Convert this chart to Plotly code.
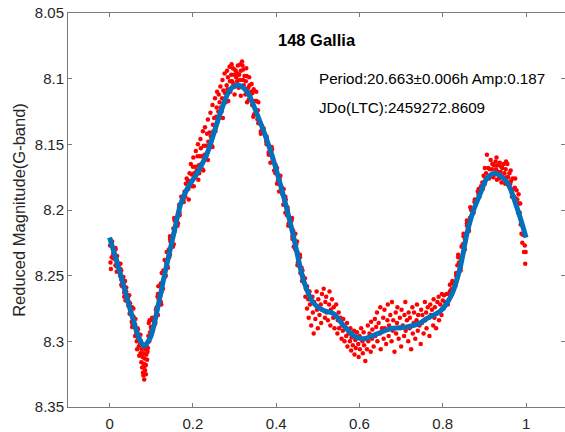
import plotly.graph_objects as go

# ---- fitted light curve ----
fit_phase = [0.000, 0.026, 0.050, 0.070, 0.082, 0.098, 0.114, 0.134, 0.154, 0.170,
             0.186, 0.210, 0.234, 0.266, 0.290, 0.310, 0.330, 0.354, 0.386, 0.418,
             0.440, 0.466, 0.490, 0.514, 0.538, 0.562, 0.586, 0.610, 0.642, 0.674,
             0.714, 0.746, 0.762, 0.794, 0.822, 0.842, 0.858, 0.874, 0.890, 0.906,
             0.926, 0.954, 0.978, 1.000]
fit_mag = [8.221, 8.249, 8.2765, 8.297, 8.3035, 8.297, 8.2765, 8.246, 8.218, 8.196,
           8.184, 8.172, 8.157, 8.126, 8.108, 8.105, 8.110, 8.127, 8.1545, 8.190,
           8.218, 8.254, 8.271, 8.2765, 8.279, 8.288, 8.2956, 8.298, 8.2943, 8.2905,
           8.289, 8.286, 8.2825, 8.277, 8.264, 8.2435, 8.218, 8.200, 8.1875, 8.176,
           8.172, 8.1787, 8.198, 8.221]

obs = [
 # descending branch 0.00-0.07
 (0.006,8.224),(0.001,8.227),(0.014,8.229),(0.010,8.231),(0.009,8.233),(0.018,8.235),(0.009,8.237),(0.018,8.239),(0.026,8.241),(0.017,8.243),(0.026,8.245),(0.017,8.247),(0.026,8.249),(0.033,8.251),(0.028,8.253),(0.034,8.255),(0.028,8.257),(0.040,8.259),(0.036,8.261),(0.035,8.263),(0.047,8.265),(0.044,8.267),(0.038,8.269),(0.049,8.271),(0.045,8.273),(0.057,8.275),(0.051,8.277),(0.048,8.279),(0.057,8.281),(0.062,8.283),(0.053,8.285),(0.061,8.287),(0.054,8.289),(0.068,8.291),(0.064,8.293),(0.074,8.295),
 (0.003,8.226),(0.014,8.230),(0.009,8.234),(0.017,8.238),(0.014,8.242),(0.028,8.246),(0.025,8.250),(0.037,8.254),(0.030,8.258),(0.040,8.262),(0.035,8.266),(0.046,8.270),(0.054,8.274),(0.049,8.278),(0.057,8.282),(0.054,8.286),(0.067,8.290),(0.065,8.294),
 (0.002,8.240),(0.003,8.245),(0.005,8.236),
 # minimum 0.06-0.10
 (0.061,8.296),(0.063,8.291),(0.065,8.300),(0.066,8.306),(0.068,8.297),(0.070,8.304),(0.071,8.311),(0.073,8.302),(0.074,8.309),(0.076,8.316),(0.077,8.306),(0.078,8.320),(0.079,8.312),(0.080,8.324),(0.081,8.309),(0.082,8.317),(0.083,8.329),(0.084,8.313),(0.085,8.322),(0.086,8.306),(0.087,8.318),(0.088,8.310),(0.089,8.302),(0.090,8.314),(0.092,8.305),(0.093,8.296),(0.094,8.286),(0.095,8.300),(0.097,8.293),(0.099,8.289),
 (0.075,8.300),(0.081,8.326),(0.084,8.319),(0.087,8.325),(0.091,8.308),(0.096,8.284),
 # rising branch 0.10-0.18
 (0.100,8.290),(0.110,8.286),(0.102,8.282),(0.113,8.278),(0.113,8.274),(0.123,8.270),(0.115,8.266),(0.125,8.262),(0.117,8.258),(0.128,8.254),(0.135,8.250),(0.129,8.246),(0.138,8.242),(0.132,8.238),(0.145,8.234),(0.142,8.230),(0.154,8.226),(0.145,8.222),(0.154,8.218),(0.153,8.214),(0.164,8.210),(0.155,8.206),(0.168,8.202),(0.167,8.198),(0.178,8.194),(0.172,8.190),
 (0.107,8.288),(0.103,8.284),(0.116,8.280),(0.111,8.276),(0.124,8.272),(0.118,8.268),(0.116,8.264),(0.128,8.260),(0.123,8.256),(0.131,8.252),(0.125,8.248),(0.140,8.244),(0.136,8.240),(0.143,8.236),(0.137,8.232),(0.152,8.228),(0.146,8.224),(0.145,8.220),(0.157,8.216),(0.163,8.212),(0.156,8.208),(0.168,8.204),(0.167,8.200),(0.167,8.196),(0.177,8.192),
 # 0.18-0.26
 (0.180,8.186),(0.182,8.190),(0.183,8.180),(0.186,8.184),(0.188,8.178),(0.189,8.184),(0.192,8.172),(0.194,8.178),(0.197,8.173),(0.198,8.182),(0.200,8.167),(0.203,8.172),(0.205,8.175),(0.206,8.167),(0.209,8.170),(0.211,8.159),(0.214,8.166),(0.215,8.172),(0.217,8.159),(0.220,8.165),(0.222,8.159),(0.223,8.169),(0.226,8.151),(0.228,8.158),(0.231,8.151),(0.232,8.159),(0.234,8.142),(0.237,8.148),(0.239,8.151),(0.240,8.141),(0.243,8.144),(0.245,8.151),(0.248,8.135),(0.249,8.140),(0.251,8.130),(0.254,8.140),(0.256,8.129),(0.257,8.122),(0.259,8.133),
 (0.195,8.165),(0.201,8.160),(0.207,8.155),(0.212,8.150),(0.218,8.146),(0.224,8.140),(0.229,8.137),(0.236,8.131),(0.242,8.126),(0.247,8.120),(0.253,8.115),(0.258,8.110),(0.190,8.192),(0.202,8.182),(0.213,8.177),(0.225,8.170),(0.236,8.162),(0.247,8.152),(0.185,8.176),(0.219,8.153),
 # peak 0.26-0.36
 (0.261,8.125),(0.263,8.130),(0.264,8.118),(0.267,8.122),(0.269,8.125),(0.270,8.115),(0.273,8.109),(0.275,8.116),(0.277,8.111),(0.279,8.118),(0.281,8.105),(0.283,8.108),(0.284,8.099),(0.287,8.109),(0.289,8.102),(0.290,8.110),(0.292,8.097),(0.294,8.102),(0.296,8.092),(0.297,8.104),(0.299,8.097),(0.301,8.106),(0.303,8.094),(0.304,8.099),(0.306,8.102),(0.308,8.090),(0.310,8.107),(0.311,8.097),(0.313,8.101),(0.315,8.094),(0.317,8.106),(0.318,8.087),(0.319,8.090),(0.320,8.101),(0.322,8.105),(0.324,8.098),(0.326,8.112),(0.327,8.102),(0.329,8.098),(0.331,8.110),(0.333,8.107),(0.334,8.116),(0.336,8.105),(0.338,8.113),(0.340,8.110),(0.342,8.120),(0.343,8.111),(0.345,8.117),(0.347,8.127),(0.349,8.117),(0.351,8.124),(0.353,8.117),(0.355,8.131),(0.356,8.124),(0.358,8.131),
 (0.262,8.112),(0.266,8.106),(0.271,8.101),(0.276,8.096),(0.282,8.094),(0.288,8.091),(0.293,8.089),(0.300,8.093),(0.307,8.096),(0.314,8.089),(0.321,8.093),(0.328,8.092),(0.335,8.099),(0.341,8.104),(0.346,8.108),(0.352,8.110),(0.357,8.118),
 (0.285,8.117),(0.300,8.112),(0.315,8.113),(0.330,8.118),(0.345,8.129),(0.272,8.130),
 # descending 0.36-0.47
 (0.357,8.134),(0.370,8.138),(0.363,8.142),(0.377,8.146),(0.377,8.150),(0.390,8.154),(0.382,8.158),(0.392,8.162),(0.399,8.166),(0.395,8.170),(0.410,8.174),(0.404,8.178),(0.412,8.182),(0.407,8.186),(0.422,8.190),(0.420,8.194),(0.427,8.198),(0.422,8.202),(0.438,8.206),(0.430,8.210),(0.438,8.214),(0.446,8.218),(0.439,8.222),(0.448,8.226),(0.446,8.230),(0.457,8.234),(0.453,8.238),(0.451,8.242),(0.463,8.246),(0.464,8.250),(0.462,8.254),(0.474,8.258),
 (0.366,8.136),(0.363,8.140),(0.377,8.144),(0.376,8.148),(0.389,8.152),(0.382,8.156),(0.391,8.160),(0.386,8.164),(0.402,8.168),(0.398,8.172),(0.408,8.176),(0.402,8.180),(0.418,8.184),(0.415,8.188),(0.423,8.192),(0.417,8.196),(0.428,8.200),(0.426,8.204),(0.437,8.208),(0.429,8.212),(0.441,8.216),(0.439,8.220),(0.450,8.224),(0.442,8.228),(0.451,8.232),(0.457,8.236),(0.452,8.240),(0.461,8.244),(0.458,8.248),(0.469,8.252),(0.468,8.256),
 # shoulder 0.47-0.56
 (0.470,8.266),(0.471,8.260),(0.474,8.275),(0.477,8.268),(0.478,8.282),(0.480,8.262),(0.481,8.272),(0.484,8.288),(0.487,8.266),(0.488,8.278),(0.490,8.294),(0.491,8.270),(0.494,8.283),(0.497,8.262),(0.498,8.276),(0.500,8.290),(0.501,8.268),(0.504,8.280),(0.507,8.272),(0.508,8.286),(0.510,8.264),(0.511,8.276),(0.514,8.260),(0.517,8.282),(0.518,8.270),(0.520,8.266),(0.521,8.278),(0.524,8.284),(0.527,8.272),(0.528,8.262),(0.530,8.288),(0.531,8.276),(0.534,8.268),(0.537,8.282),(0.538,8.274),(0.540,8.290),(0.541,8.280),(0.544,8.272),(0.547,8.294),(0.548,8.284),(0.550,8.278),(0.551,8.290),(0.554,8.282),(0.557,8.298),(0.558,8.288),
 # trough 0.56-0.64
 (0.560,8.292),(0.561,8.283),(0.564,8.300),(0.567,8.290),(0.568,8.296),(0.570,8.286),(0.571,8.304),(0.574,8.294),(0.577,8.300),(0.578,8.290),(0.580,8.307),(0.581,8.297),(0.584,8.303),(0.587,8.292),(0.588,8.310),(0.590,8.299),(0.591,8.305),(0.594,8.293),(0.597,8.302),(0.598,8.312),(0.600,8.296),(0.601,8.306),(0.604,8.290),(0.607,8.300),(0.608,8.309),(0.610,8.293),(0.611,8.303),(0.614,8.315),(0.617,8.298),(0.618,8.306),(0.620,8.288),(0.621,8.300),(0.624,8.294),(0.627,8.308),(0.628,8.285),(0.630,8.298),(0.631,8.291),(0.634,8.304),(0.637,8.283),(0.638,8.296),(0.640,8.289),
 # flat 0.64-0.80
 (0.642,8.278),(0.643,8.300),(0.646,8.286),(0.649,8.294),(0.650,8.274),(0.651,8.306),(0.654,8.290),(0.657,8.282),(0.658,8.298),(0.660,8.276),(0.661,8.290),(0.664,8.302),(0.667,8.284),(0.668,8.272),(0.670,8.296),(0.671,8.288),(0.674,8.280),(0.677,8.300),(0.678,8.270),(0.680,8.292),(0.681,8.284),(0.684,8.308),(0.687,8.278),(0.688,8.294),(0.690,8.286),(0.691,8.274),(0.694,8.298),(0.697,8.282),(0.698,8.290),(0.700,8.304),(0.701,8.276),(0.704,8.288),(0.707,8.296),(0.708,8.280),(0.710,8.270),(0.711,8.292),(0.714,8.284),(0.717,8.300),(0.718,8.278),(0.720,8.290),(0.721,8.282),(0.724,8.306),(0.727,8.274),(0.728,8.294),(0.730,8.286),(0.731,8.278),(0.734,8.298),(0.737,8.284),(0.738,8.272),(0.740,8.292),(0.741,8.280),(0.744,8.288),(0.747,8.302),(0.748,8.276),(0.750,8.286),(0.751,8.280),(0.754,8.294),(0.757,8.270),(0.758,8.284),(0.760,8.278),(0.761,8.290),(0.764,8.274),(0.767,8.282),(0.768,8.296),(0.770,8.272),(0.771,8.280),(0.774,8.276),(0.777,8.288),(0.778,8.268),(0.780,8.282),(0.781,8.274),(0.784,8.290),(0.787,8.270),(0.788,8.278),(0.790,8.266),(0.791,8.284),(0.794,8.272),(0.797,8.280),(0.798,8.264),
 # rising 0.80-0.82
 (0.800,8.269),(0.802,8.275),(0.803,8.265),(0.806,8.270),(0.808,8.271),(0.809,8.264),(0.812,8.272),(0.814,8.264),(0.817,8.257),(0.818,8.264),(0.820,8.261),
 # steep rise 0.82-0.90
 (0.817,8.262),(0.830,8.258),(0.823,8.254),(0.832,8.250),(0.843,8.246),(0.835,8.242),(0.844,8.238),(0.837,8.234),(0.853,8.230),(0.848,8.226),(0.853,8.222),(0.850,8.218),(0.862,8.214),(0.858,8.210),(0.865,8.206),(0.874,8.202),(0.866,8.198),(0.876,8.194),(0.888,8.190),(0.884,8.186),(0.892,8.182),
 (0.822,8.260),(0.822,8.256),(0.834,8.252),(0.832,8.248),(0.843,8.244),(0.839,8.240),(0.837,8.236),(0.850,8.232),(0.845,8.228),(0.854,8.224),(0.850,8.220),(0.863,8.216),(0.858,8.212),(0.858,8.208),(0.870,8.204),(0.868,8.200),(0.879,8.196),(0.877,8.192),(0.886,8.188),(0.886,8.184),(0.901,8.180),
 # 0.895-0.92
 (0.895,8.179),(0.896,8.184),(0.898,8.174),(0.901,8.168),(0.903,8.176),(0.904,8.172),(0.906,8.158),(0.909,8.168),(0.911,8.176),(0.913,8.169),(0.915,8.162),(0.918,8.169),(0.919,8.165),
 # second peak 0.92-1.00
 (0.921,8.175),(0.923,8.166),(0.925,8.173),(0.927,8.163),(0.928,8.169),(0.930,8.177),(0.932,8.166),(0.934,8.171),(0.935,8.176),(0.937,8.164),(0.939,8.171),(0.941,8.179),(0.943,8.168),(0.944,8.175),(0.946,8.165),(0.948,8.172),(0.950,8.180),(0.951,8.169),(0.953,8.175),(0.955,8.165),(0.957,8.175),(0.959,8.182),(0.960,8.172),(0.962,8.180),(0.964,8.178),(0.966,8.190),(0.968,8.176),(0.969,8.184),(0.971,8.190),(0.973,8.183),(0.975,8.191),(0.977,8.185),(0.979,8.192),(0.981,8.202),(0.983,8.195),(0.985,8.202),(0.987,8.211),(0.989,8.218),(0.991,8.225),(0.993,8.219),(0.995,8.232),(0.997,8.227),(0.998,8.241),(0.999,8.232),
 (0.916,8.174),(0.929,8.160),(0.940,8.167),(0.952,8.163),(0.963,8.170),(0.974,8.176),(0.982,8.188),(0.986,8.195),
]
obs_phase = [p for p, m in obs]
obs_mag = [m for p, m in obs]

x_ticks = [0, 0.2, 0.4, 0.6, 0.8, 1]
x_tick_text = ["0", "0.2", "0.4", "0.6", "0.8", "1"]
y_ticks = [8.05, 8.1, 8.15, 8.2, 8.25, 8.3, 8.35]
y_tick_text = ["8.05", "8.1", "8.15", "8.2", "8.25", "8.3", "8.35"]

title_text = "148 Gallia"
period_text = "Period:20.663±0.006h Amp:0.187"
jd_text = "JDo(LTC):2459272.8609"
y_label = "Reduced Magnitude(G-band)"

FONT = "Liberation Sans, Arial, sans-serif"
TXT = "#262626"
AX = "#7a7a7a"

fig = go.Figure()
fig.add_trace(go.Scatter(x=obs_phase, y=obs_mag, mode="markers",
                         marker=dict(color="#ff0000", size=4.5, line=dict(width=0)),
                         showlegend=False, hoverinfo="skip"))
fig.add_trace(go.Scatter(x=fit_phase, y=fit_mag, mode="lines",
                         line=dict(color="#0072BD", width=5, shape="spline", smoothing=0.8),
                         showlegend=False, hoverinfo="skip"))
# invisible trace to carry right-side ticks
fig.add_trace(go.Scatter(x=[None], y=[None], yaxis="y2", showlegend=False, hoverinfo="skip"))

fig.update_layout(
    width=565, height=432,
    margin=dict(l=68, r=0, t=13, b=25),
    paper_bgcolor="white", plot_bgcolor="white",
    font=dict(family=FONT, size=15, color=TXT),
    xaxis=dict(range=[-0.1, 1.0935], tickvals=x_ticks, ticktext=x_tick_text,
               ticks="inside", ticklen=4, tickcolor=AX, showline=True, linecolor=AX,
               linewidth=1, mirror="ticks", showgrid=False, zeroline=False,
               tickfont=dict(size=15, color=TXT), ticklabelstandoff=3),
    yaxis=dict(range=[8.35, 8.05], tickvals=y_ticks, ticktext=y_tick_text,
               ticks="inside", ticklen=4, tickcolor=AX, showline=True, linecolor=AX,
               linewidth=1, showgrid=False, zeroline=False,
               tickfont=dict(size=15, color=TXT),
               title=dict(text=y_label, font=dict(size=16.5, color=TXT), standoff=5)),
    yaxis2=dict(range=[8.35, 8.05], tickvals=y_ticks, overlaying="y", side="right",
                ticks="inside", ticklen=4, tickcolor=AX, showline=False,
                showticklabels=False, showgrid=False, zeroline=False),
    annotations=[
        dict(text="<b>" + title_text + "</b>", xref="paper", yref="paper",
             x=0.501, y=0.9315, xanchor="center", yanchor="middle", showarrow=False,
             font=dict(size=16.5, color="black")),
        dict(text=period_text, xref="paper", yref="paper", x=0.5, y=0.8325,
             xanchor="left", yanchor="middle", showarrow=False,
             font=dict(size=15.2, color="black")),
        dict(text=jd_text, xref="paper", yref="paper", x=0.5, y=0.7614,
             xanchor="left", yanchor="middle", showarrow=False,
             font=dict(size=15.2, color="black")),
    ],
)

fig.write_html("out.html")
